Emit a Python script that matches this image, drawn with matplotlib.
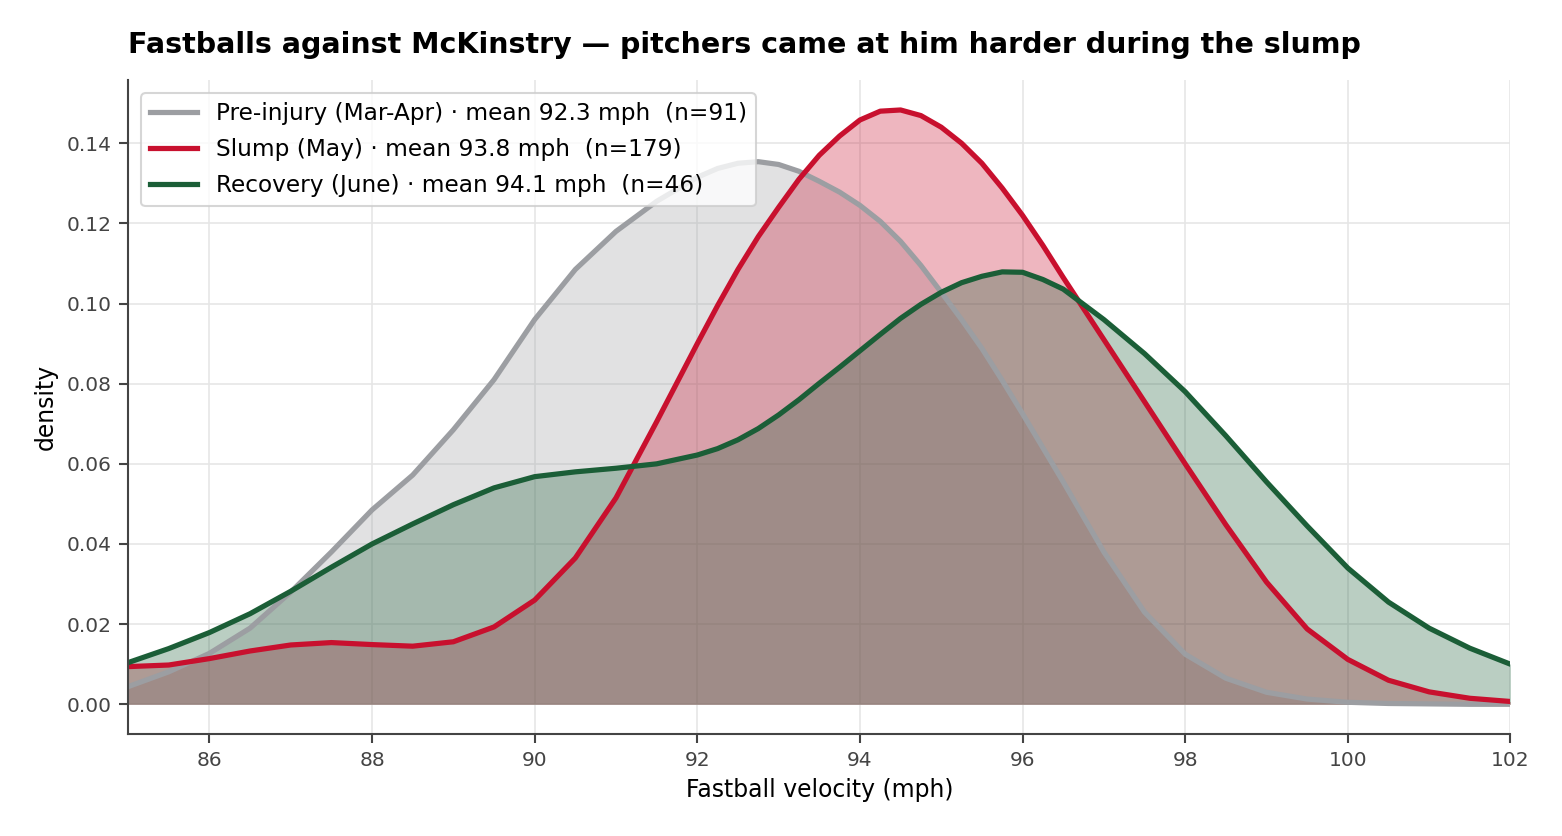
import matplotlib
matplotlib.use("Agg")
import matplotlib.pyplot as plt
import numpy as np

# velocity grid (mph) -- finer around the peaks -- and density
velocity = [85.0, 85.5, 86.0, 86.5, 87.0, 87.5, 88.0, 88.5, 89.0, 89.5, 90.0, 90.5, 91.0, 91.5,
            92.0, 92.25, 92.5, 92.75, 93.0, 93.25, 93.5, 93.75, 94.0, 94.25, 94.5, 94.75,
            95.0, 95.25, 95.5, 95.75, 96.0, 96.25, 96.5,
            97.0, 97.5, 98.0, 98.5, 99.0, 99.5, 100.0, 100.5, 101.0, 101.5, 102.0]

pre_injury = [0.0044, 0.0081, 0.0127, 0.0190, 0.0280, 0.0380, 0.0485, 0.0572, 0.0685, 0.0810,
              0.0960, 0.1085, 0.1180, 0.1255,
              0.1315, 0.1337, 0.1350, 0.1354, 0.1347, 0.1330, 0.1305, 0.1278, 0.1245, 0.1205,
              0.1155, 0.1095, 0.1028, 0.0960, 0.0888, 0.0808, 0.0725, 0.0640, 0.0555,
              0.0380, 0.0230, 0.0125, 0.0065, 0.0030, 0.0013, 0.0005, 0.0002, 0.0001, 0.0000, 0.0000]

slump = [0.0094, 0.0098, 0.0114, 0.0133, 0.0148, 0.0154, 0.0149, 0.0145, 0.0156, 0.0193,
         0.0260, 0.0365, 0.0515, 0.0705,
         0.0900, 0.0995, 0.1085, 0.1167, 0.1240, 0.1310, 0.1370, 0.1418, 0.1458, 0.1480,
         0.1483, 0.1469, 0.1440, 0.1400, 0.1350, 0.1288, 0.1220, 0.1145, 0.1065,
         0.0910, 0.0755, 0.0600, 0.0448, 0.0305, 0.0188, 0.0112, 0.0060, 0.0031, 0.0015, 0.0007]

recovery = [0.0104, 0.0139, 0.0179, 0.0226, 0.0282, 0.0342, 0.0400, 0.0450, 0.0498, 0.0540,
            0.0568, 0.0580, 0.0589, 0.0600,
            0.0622, 0.0638, 0.0660, 0.0688, 0.0722, 0.0760, 0.0801, 0.0841, 0.0882, 0.0923,
            0.0963, 0.0998, 0.1028, 0.1052, 0.1068, 0.1079, 0.1078, 0.1060, 0.1036,
            0.0960, 0.0875, 0.0780, 0.0670, 0.0555, 0.0445, 0.0340, 0.0255, 0.0190, 0.0140, 0.0100]

labels = ["Pre-injury (Mar-Apr) \u00b7 mean 92.3 mph  (n=91)",
          "Slump (May) \u00b7 mean 93.8 mph  (n=179)",
          "Recovery (June) \u00b7 mean 94.1 mph  (n=46)"]
colors = ["#9c9ea2", "#c8102e", "#1b5e37"]

fig, ax = plt.subplots(figsize=(1562 / 150, 836 / 150), dpi=150)
fig.subplots_adjust(left=0.082, right=0.967, top=0.904, bottom=0.122)

for dens, lab, col in zip([pre_injury, slump, recovery], labels, colors):
    ax.fill_between(velocity, dens, 0, color=col, alpha=0.3, linewidth=0)
    ax.plot(velocity, dens, color=col, lw=2.5, label=lab, solid_joinstyle="round")

ax.set_xlim(85, 102)
ax.set_xticks(np.arange(86, 103, 2))
ax.set_yticks(np.arange(0, 0.15, 0.02))
ax.yaxis.set_major_formatter(matplotlib.ticker.FormatStrFormatter("%.2f"))
ax.grid(True, color="#e6e6e6", lw=0.8)
ax.set_axisbelow(True)

for s in ["top", "right"]:
    ax.spines[s].set_visible(False)
for s in ["left", "bottom"]:
    ax.spines[s].set_color("#444444")
    ax.spines[s].set_linewidth(1.0)
ax.tick_params(colors="#444444", labelsize=9.7, length=4.5, width=1.0)

ax.set_xlabel("Fastball velocity (mph)", fontsize=11.3, labelpad=4)
ax.set_ylabel("density", fontsize=11.3)
ax.set_title("Fastballs against McKinstry \u2014 pitchers came at him harder during the slump",
             loc="left", fontsize=13.7, fontweight="bold", pad=13)

leg = ax.legend(loc="upper left", fontsize=11.2, framealpha=0.8, edgecolor="#cccccc",
                handlelength=2.0, labelspacing=0.55, borderaxespad=0.55)

fig.savefig("out.png", dpi=150)
